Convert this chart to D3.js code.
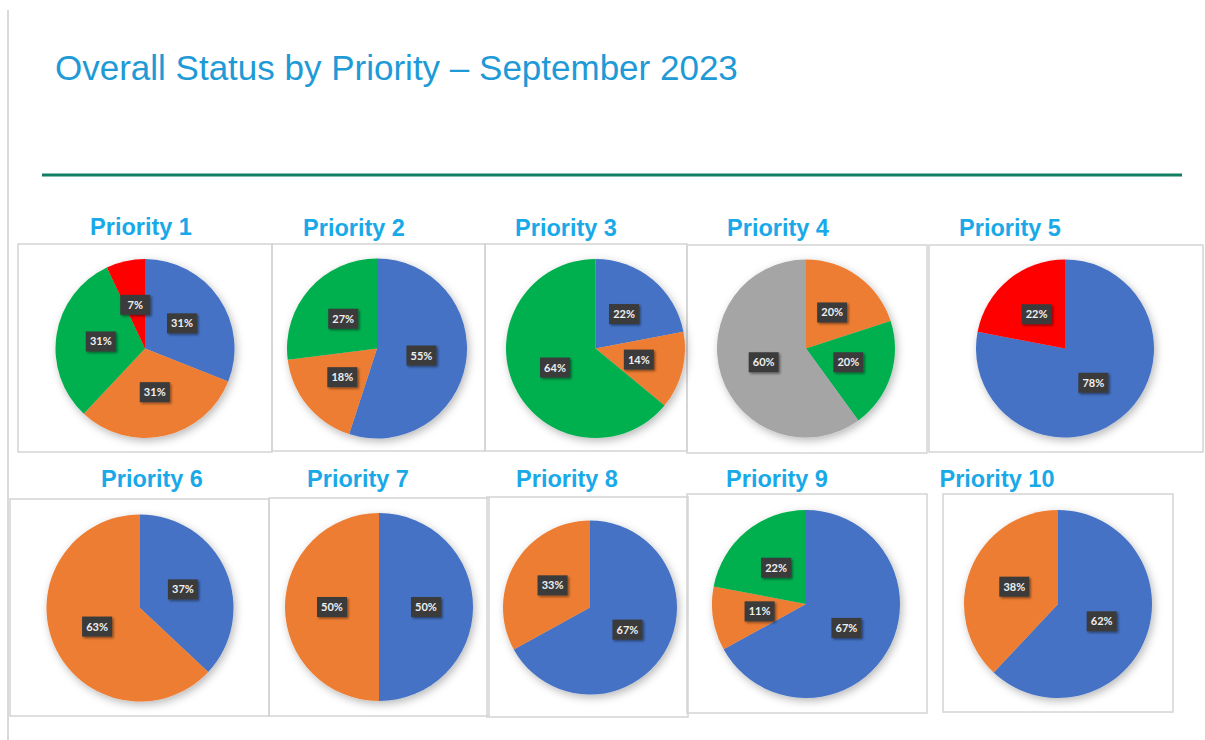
<!DOCTYPE html>
<html>
<head>
<meta charset="utf-8">
<script src="https://cdn.jsdelivr.net/npm/d3@7"></script>
<style>
  html, body { margin: 0; padding: 0; background: #ffffff; }
  svg { display: block; }
</style>
</head>
<body>
<svg id="chart" width="1205" height="740"></svg>
<script>
// ---------------- DATA ----------------
const chartTitle = "Overall Status by Priority \u2013 September 2023";
const priorities = ["Priority 1", "Priority 2", "Priority 3", "Priority 4", "Priority 5",
                    "Priority 6", "Priority 7", "Priority 8", "Priority 9", "Priority 10"];
const statuses = ["Status A", "Status B", "Status C", "Status D", "Status E"];
// percentages per priority, one array per status (clockwise order from 12 o'clock)
const statusAValues = [31, 55, 22,  0, 78, 37, 50, 67, 67, 62]; // blue
const statusBValues = [31, 18, 14, 20,  0, 63, 50, 33, 11, 38]; // orange
const statusCValues = [31, 27, 64, 20,  0,  0,  0,  0, 22,  0]; // green
const statusDValues = [ 0,  0,  0, 60,  0,  0,  0,  0,  0,  0]; // gray
const statusEValues = [ 7,  0,  0,  0, 22,  0,  0,  0,  0,  0]; // red
const statusColors = ["#4472C4", "#ED7D31", "#00B050", "#A5A5A5", "#FF0000"];

// ---------------- LAYOUT ----------------
// panel frames [x0,y0,x1,y1], pie centre/radius, title centre/baseline
const frames = [
  [18,244,272,452],[272,244,485,451],[485,244,687,451],[687,245,927,453],[929,245,1203,452],
  [10,499,269,716],[269,498,489,716],[487,497,688,717],[687,494,927,713],[943,494,1173,712]
];
const pies = [
  [145,348.5,89.5],[377,348.5,90],[595.5,348.5,89.5],[806,348.5,89],[1065,348.5,89],
  [140,608,93.5],[379,607,94],[590,607.5,87],[806,604,94],[1058,604,94]
];
const titlePos = [
  [141,235],[354,236],[566,236],[778,236],[1010,236],
  [152,487],[358,487],[567,487],[777,487],[997,487]
];

const seriesValues = [statusAValues, statusBValues, statusCValues, statusDValues, statusEValues];
const color = d3.scaleOrdinal().domain(statuses).range(statusColors);

const svg = d3.select("#chart");
const defs = svg.append("defs");
const sh = defs.append("filter").attr("id", "pieShadow")
  .attr("x", "-20%").attr("y", "-20%").attr("width", "140%").attr("height", "140%");
sh.append("feDropShadow").attr("dx", 2).attr("dy", 3).attr("stdDeviation", 4)
  .attr("flood-color", "#000").attr("flood-opacity", 0.28);
const lsh = defs.append("filter").attr("id", "lblShadow")
  .attr("x", "-30%").attr("y", "-30%").attr("width", "160%").attr("height", "160%");
lsh.append("feDropShadow").attr("dx", 1.5).attr("dy", 1.5).attr("stdDeviation", 1.2)
  .attr("flood-color", "#000").attr("flood-opacity", 0.45);

svg.append("rect").attr("width", 1205).attr("height", 740).attr("fill", "#fff");

// left page edge line
svg.append("line").attr("x1", 8).attr("x2", 8).attr("y1", 10).attr("y2", 740)
  .attr("stroke", "#d9d9d9").attr("stroke-width", 2);

// main title
svg.append("text").attr("x", 55).attr("y", 80)
  .attr("font-family", "Liberation Sans, Arial, sans-serif")
  .attr("font-size", 35).attr("fill", "#1E9AD6")
  .text(chartTitle);

// green rule
svg.append("line").attr("x1", 42).attr("x2", 1182).attr("y1", 175).attr("y2", 175)
  .attr("stroke", "#127F62").attr("stroke-width", 3);

// frames
svg.append("g").selectAll("rect").data(frames).join("rect")
  .attr("x", d => d[0]).attr("y", d => d[1])
  .attr("width", d => d[2] - d[0]).attr("height", d => d[3] - d[1])
  .attr("fill", "none").attr("stroke", "#d4d4d4").attr("stroke-width", 1.5);

// titles
svg.append("g").selectAll("text").data(priorities).join("text")
  .attr("x", (d, i) => titlePos[i][0]).attr("y", (d, i) => titlePos[i][1])
  .attr("text-anchor", "middle")
  .attr("font-family", "Liberation Sans, Arial, sans-serif")
  .attr("font-weight", "bold").attr("font-size", 23.5)
  .attr("fill", "#19A9E8")
  .text(d => d);

const pie = d3.pie().sort(null).value(d => d.value).startAngle(0).endAngle(2 * Math.PI);

priorities.forEach((p, i) => {
  const [cx, cy, r] = pies[i];
  const data = statuses.map((s, k) => ({ status: s, value: seriesValues[k][i] }))
    .filter(d => d.value > 0);
  const arcs = pie(data);
  const arc = d3.arc().innerRadius(0).outerRadius(r);
  const g = svg.append("g").attr("transform", `translate(${cx},${cy})`);
  const sg = g.append("g").attr("filter", "url(#pieShadow)");
  sg.selectAll("path").data(arcs).join("path")
    .attr("d", arc)
    .attr("fill", d => color(d.data.status));

  const lbl = g.append("g").selectAll("g").data(arcs).join("g")
    .attr("transform", d => `translate(${arc.centroid(d)})`);
  lbl.append("rect").attr("x", -15).attr("y", -10).attr("width", 30).attr("height", 20)
    .attr("fill", "#3b3b3b").attr("filter", "url(#lblShadow)");
  lbl.append("text").attr("text-anchor", "middle").attr("dy", "0.36em")
    .attr("font-family", "Lato, Open Sans, sans-serif").attr("font-weight", "bold")
    .attr("font-size", 11).attr("fill", "#f0f0f0")
    .text(d => d.data.value + "%");
});
</script>
</body>
</html>
